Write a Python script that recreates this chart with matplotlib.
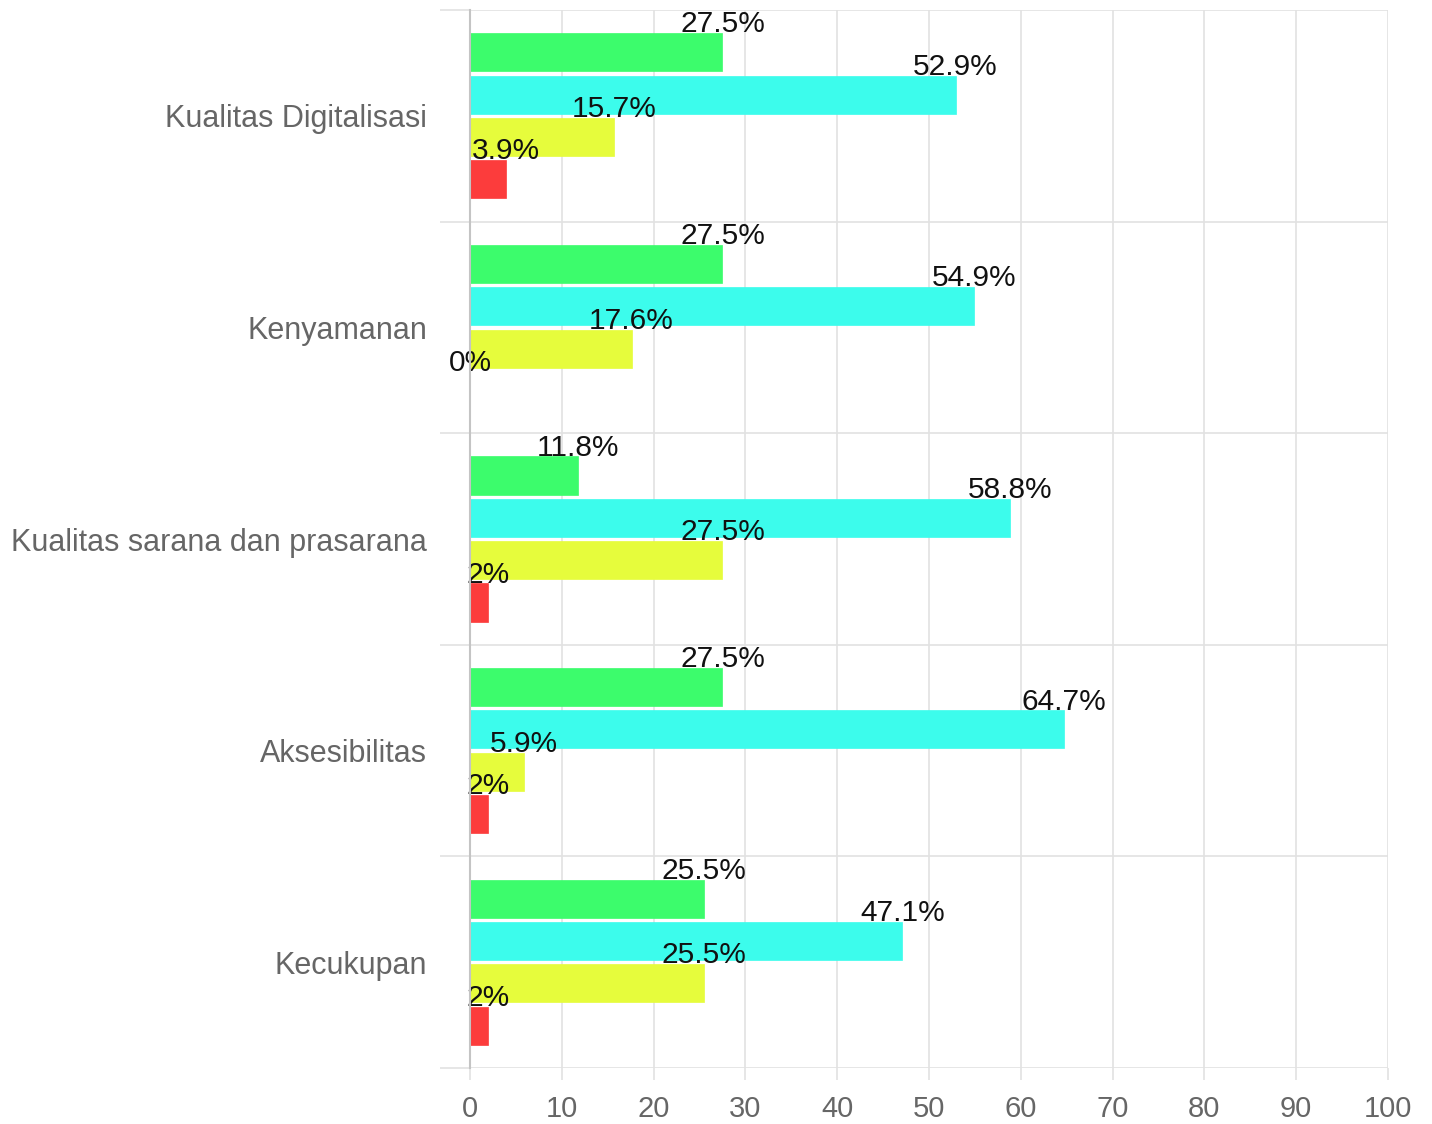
import numpy as np
import matplotlib.pyplot as plt

plt.rcParams['font.family'] = ['Liberation Sans', 'DejaVu Sans']

# --- data
categories = ['Kualitas Digitalisasi', 'Kenyamanan', 'Kualitas sarana dan prasarana',
              'Aksesibilitas', 'Kecukupan']
green_vals = [27.5, 27.5, 11.8, 27.5, 25.5]
cyan_vals = [52.9, 54.9, 58.8, 64.7, 47.1]
yellow_vals = [15.7, 17.6, 27.5, 5.9, 25.5]
red_vals = [3.9, 0, 2, 2, 2]
x_ticks = [0, 10, 20, 30, 40, 50, 60, 70, 80, 90, 100]

series = [green_vals, cyan_vals, yellow_vals, red_vals]
colors = ['#3cfc6c', '#3cfcec', '#e6fc3c', '#fc3c3c']

# ---
fig = plt.figure(figsize=(14.32, 11.24), dpi=100)
ax = fig.add_axes([470 / 1432, 1 - 1068 / 1124, (1388 - 470) / 1432, (1068 - 10) / 1124])

y = np.arange(len(categories))
slot = 0.8 / len(series)
for i, (vals, c) in enumerate(zip(series, colors)):
    pos = y + (i - 1.5) * slot
    ax.barh(pos, vals, height=slot * 0.9, color=c, edgecolor=c, linewidth=0.5, zorder=3)
    for p, v in zip(pos, vals):
        ax.text(v, p - slot * 0.47, f'{v:g}%', ha='center', va='baseline',
                fontsize=21.5, color='#111111', zorder=4)

ax.set_xlim(0, 100)
ax.set_ylim(len(categories) - 0.5, -0.5)
ax.set_xticks(x_ticks)
ax.set_yticks(y)
ax.set_yticklabels(categories)
ax.set_yticks(np.arange(-0.5, len(categories)), minor=True)

grid_c = '#e2e2e2'
ax.grid(axis='x', color=grid_c, linewidth=1.2, zorder=0)
ax.grid(axis='y', which='minor', color=grid_c, linewidth=1.2, zorder=0)
ax.grid(axis='y', which='major', visible=False)

for s in ['top', 'right', 'bottom']:
    ax.spines[s].set_visible(False)
ax.spines['left'].set_color('#c4c4c4')
ax.spines['left'].set_linewidth(1.5)
ax.spines['left'].set_zorder(5)

ax.tick_params(axis='y', which='major', length=0, pad=31, labelsize=22, labelcolor='#666666')
ax.tick_params(axis='y', which='minor', length=21.6, width=1.2, color=grid_c)
ax.tick_params(axis='x', length=8.6, width=1.2, color=grid_c, pad=11,
               labelsize=21, labelcolor='#666666')

plt.savefig('out.png', dpi=100)
